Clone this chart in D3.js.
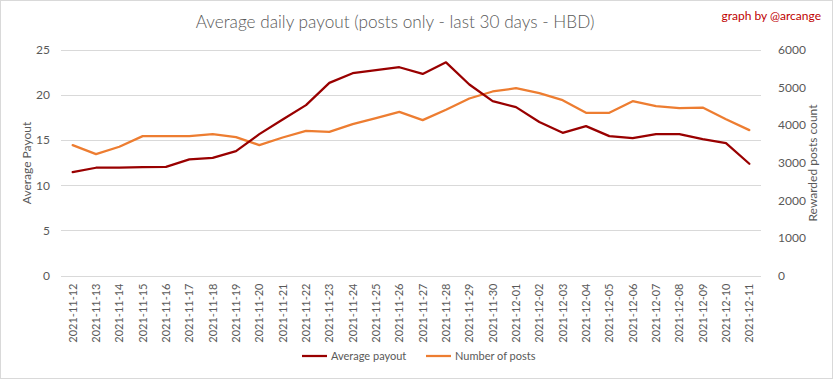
<!DOCTYPE html>
<html><head><meta charset="utf-8">
<script src="https://cdn.jsdelivr.net/npm/d3@7"></script>
<style>body{margin:0;background:#fff}svg{display:block}text{font-family:Lato,"Open Sans",sans-serif}</style>
</head><body><svg id="c" width="833" height="379"></svg>
<script>
const dates = ["2021-11-12","2021-11-13","2021-11-14","2021-11-15","2021-11-16","2021-11-17","2021-11-18","2021-11-19","2021-11-20","2021-11-21","2021-11-22","2021-11-23","2021-11-24","2021-11-25","2021-11-26","2021-11-27","2021-11-28","2021-11-29","2021-11-30","2021-12-01","2021-12-02","2021-12-03","2021-12-04","2021-12-05","2021-12-06","2021-12-07","2021-12-08","2021-12-09","2021-12-10","2021-12-11"];
const avgPayout = [11.45,11.93,11.93,12.0,12.03,12.85,13.03,13.77,15.65,17.28,18.86,21.33,22.4,22.73,23.06,22.32,23.6,21.15,19.3,18.64,17.0,15.8,16.54,15.43,15.2,15.65,15.65,15.1,14.66,12.37];
const numPosts = [3464,3226,3420,3704,3704,3704,3757,3677,3464,3668,3845,3818,4022,4182,4349,4128,4402,4704,4890,4978,4845,4659,4322,4322,4633,4500,4446,4464,4154,3863];
const leftTicks = [0,5,10,15,20,25];
const rightTicks = [0,1000,2000,3000,4000,5000,6000];
const title = "Average daily payout (posts only - last 30 days - HBD)";

const svg = d3.select("#c");
const W=833,H=379;
svg.append("rect").attr("x",0.5).attr("y",0.5).attr("width",W-1).attr("height",H-1).attr("fill","#fff").attr("stroke","#d9d9d9");
const L=61,R=761,T=49.7,B=275.5;
const x = d3.scaleBand().domain(dates).range([L,R]);
const yL = d3.scaleLinear().domain([0,25]).range([B,T]);
const yR = d3.scaleLinear().domain([0,6000]).range([B,T]);
const grey="#595959";

svg.append("g").selectAll("line").data(leftTicks).join("line")
 .attr("x1",L).attr("x2",R).attr("y1",d=>Math.round(yL(d))+0.5).attr("y2",d=>Math.round(yL(d))+0.5)
 .attr("stroke","#d9d9d9").attr("stroke-width",1);

const gl = svg.append("g").attr("transform",`translate(${L},0)`).call(d3.axisLeft(yL).tickValues(leftTicks).tickSize(0).tickPadding(11));
gl.select(".domain").remove();
gl.selectAll("text").attr("fill",grey).style("font-size","12px").style("font-family","Lato");
const gr = svg.append("g").attr("transform",`translate(${R},0)`).call(d3.axisRight(yR).tickValues(rightTicks).tickFormat(d3.format("d")).tickSize(0).tickPadding(17));
gr.select(".domain").remove();
gr.selectAll("text").attr("fill",grey).style("font-size","12px").style("font-family","Lato");

const gx = svg.append("g").attr("transform",`translate(0,${B})`).call(d3.axisBottom(x).tickSize(0).tickPadding(0));
gx.select(".domain").remove();
gx.selectAll("text").attr("fill",grey).style("font-size","11px").style("font-family","Lato")
 .attr("transform","rotate(-90)").attr("text-anchor","end").attr("dy","0.35em").attr("x",-8).attr("y",0);

const lineL = d3.line().x((d,i)=>x(dates[i])+x.bandwidth()/2).y(d=>yL(d));
const lineR = d3.line().x((d,i)=>x(dates[i])+x.bandwidth()/2).y(d=>yR(d));
const cRed="#990000", cOr="#ED7D31";
svg.append("path").attr("d",lineR(numPosts)).attr("fill","none").attr("stroke",cOr).attr("stroke-width",2.25).attr("stroke-linejoin","round").attr("stroke-linecap","round");
svg.append("path").attr("d",lineL(avgPayout)).attr("fill","none").attr("stroke",cRed).attr("stroke-width",2.25).attr("stroke-linejoin","round").attr("stroke-linecap","round");

const t = svg.append("text").attr("x",395).attr("y",28).attr("text-anchor","middle").attr("fill",grey)
 .style("font-size","19px").style("font-weight","300").text(title);
const tw = t.node().getComputedTextLength(); t.style("font-size",(19*399/tw)+"px");
svg.append("text").attr("x",821).attr("y",20).attr("text-anchor","end").attr("fill","#c00000").style("font-size","12px").text("graph by @arcange");

svg.append("text").attr("transform","translate(31,163) rotate(-90)").attr("text-anchor","middle").attr("fill",grey).style("font-size","12px").text("Average Payout");
svg.append("text").attr("transform","translate(817,163) rotate(-90)").attr("text-anchor","middle").attr("fill",grey).style("font-size","12px").text("Rewarded posts count");

const leg = [{n:"Average payout",c:cRed,x:302},{n:"Number of posts",c:cOr,x:426}];
const lg = svg.append("g").selectAll("g").data(leg).join("g").attr("transform",d=>`translate(${d.x},356)`);
lg.append("line").attr("x1",0).attr("x2",25).attr("stroke",d=>d.c).attr("stroke-width",2.25);
lg.append("text").attr("x",29).attr("dy","0.35em").attr("fill",grey).style("font-size","11px").text(d=>d.n);
</script></body></html>
